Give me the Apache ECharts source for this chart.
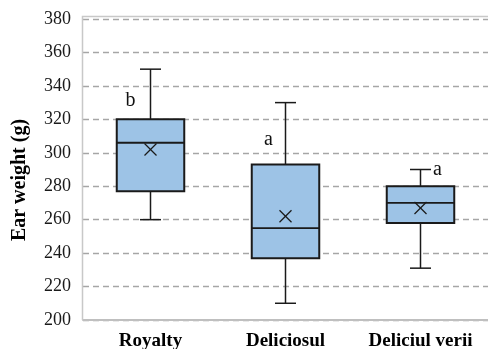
<!DOCTYPE html>
<html>
<head>
<meta charset="utf-8">
<script src="https://cdn.jsdelivr.net/npm/echarts@6/dist/echarts.min.js"></script>
<style>
  html, body { margin: 0; padding: 0; background: #fff; }
  #chart { width: 488px; height: 349px; }
</style>
</head>
<body>
<div id="chart"></div>
<script>
// Cultivars on the category axis
const cultivars = ['Royalty', 'Deliciosul', 'Deliciul verii'];

// Five-number summaries of ear weight (g): min, Q1, median, Q3, max
const whiskerMin = [260, 210, 231];
const quartile1  = [277, 237, 258];
const medians    = [306, 255, 270];
const quartile3  = [320, 293, 280];
const whiskerMax = [350, 330, 290];

// Mean ear weight (g), drawn as an x marker
const means = [302, 262, 267];

// Significance letters and the value level they sit at
const letters      = ['b', 'a', 'a'];
const letterLevels = [331, 308, 290];
const letterShift  = [-20, -17, 17];

// Value axis ticks
const yMin = 200, yMax = 380, yStep = 20;

const axisTitle = 'Ear weight (g)';

const serif = '"Liberation Serif", "Times New Roman", serif';

const boxData = cultivars.map((c, i) => [i, whiskerMin[i], quartile1[i], medians[i], quartile3[i], whiskerMax[i], means[i]]);
const letterData = cultivars.map((c, i) => [i, letterLevels[i], letters[i], letterShift[i]]);

const chart = echarts.init(document.getElementById('chart'), null, { renderer: 'canvas' });

chart.setOption({
  animation: false,
  grid: { left: 83, right: 0, top: 19, bottom: 29, containLabel: false, outerBoundsMode: 'none' },
  xAxis: {
    type: 'category',
    data: cultivars,
    axisLine: { show: true, lineStyle: { color: '#bfbfbf', width: 2 } },
    axisTick: { show: false },
    axisLabel: { interval: 0, fontFamily: serif, fontWeight: 'bold', fontSize: 19, color: '#000', margin: 12 },
    splitLine: { show: false }
  },
  yAxis: {
    type: 'value',
    min: yMin, max: yMax, interval: yStep,
    axisLine: { show: false },
    axisTick: { show: false },
    axisLabel: { fontFamily: serif, fontSize: 18, color: '#1a1a1a', margin: 12 },
    splitLine: { show: true, lineStyle: { color: '#a6a6a6', type: [6, 4], width: 1.3 } }
  },
  graphic: [
    {
      type: 'polyline',
      silent: true,
      z: 1,
      shape: { points: [[82.5, 320], [82.5, 16.5], [488, 16.5]] },
      style: { stroke: '#c8c8c8', lineWidth: 1.5, fill: null }
    },
    {
      type: 'text',
      silent: true,
      x: 20,
      y: 180,
      rotation: Math.PI / 2,
      style: {
        text: axisTitle,
        fontFamily: serif,
        fontWeight: 'bold',
        fontSize: 20,
        fill: '#000',
        align: 'center',
        verticalAlign: 'middle'
      }
    }
  ],
  series: [
    {
      type: 'custom',
      data: boxData,
      z: 5,
      renderItem: function (params, api) {
        const i = api.value(0);
        const cx = api.coord([i, api.value(3)])[0];
        const band = api.size([1, 0])[0];
        const half = band * 0.25;
        const cap = 10.5;
        const yMinP = api.coord([i, api.value(1)])[1];
        const yQ1 = api.coord([i, api.value(2)])[1];
        const yMed = api.coord([i, api.value(3)])[1];
        const yQ3 = api.coord([i, api.value(4)])[1];
        const yMaxP = api.coord([i, api.value(5)])[1];
        const yMean = api.coord([i, api.value(6)])[1];
        const ink = '#1a1a1a';
        const m = 6;
        return {
          type: 'group',
          children: [
            { type: 'line', shape: { x1: cx, y1: yMaxP, x2: cx, y2: yQ3 }, style: { stroke: ink, lineWidth: 1.5 } },
            { type: 'line', shape: { x1: cx, y1: yQ1, x2: cx, y2: yMinP }, style: { stroke: ink, lineWidth: 1.5 } },
            { type: 'line', shape: { x1: cx - cap, y1: yMaxP, x2: cx + cap, y2: yMaxP }, style: { stroke: ink, lineWidth: 1.5 } },
            { type: 'line', shape: { x1: cx - cap, y1: yMinP, x2: cx + cap, y2: yMinP }, style: { stroke: ink, lineWidth: 1.5 } },
            { type: 'rect', shape: { x: cx - half, y: yQ3, width: half * 2, height: yQ1 - yQ3 }, style: { fill: '#9dc3e6', stroke: ink, lineWidth: 2 } },
            { type: 'line', shape: { x1: cx - half, y1: yMed, x2: cx + half, y2: yMed }, style: { stroke: ink, lineWidth: 1.8 } },
            { type: 'line', shape: { x1: cx - m, y1: yMean - m, x2: cx + m, y2: yMean + m }, style: { stroke: ink, lineWidth: 1.3 } },
            { type: 'line', shape: { x1: cx - m, y1: yMean + m, x2: cx + m, y2: yMean - m }, style: { stroke: ink, lineWidth: 1.3 } }
          ]
        };
      }
    },
    {
      type: 'custom',
      data: letterData,
      z: 6,
      renderItem: function (params, api) {
        const p = api.coord([api.value(0), api.value(1)]);
        const idx = params.dataIndex;
        return {
          type: 'text',
          x: p[0] + letterData[idx][3],
          y: p[1],
          style: {
            text: letterData[idx][2],
            fontFamily: serif,
            fontSize: 20,
            fill: '#111',
            align: 'center',
            verticalAlign: 'middle'
          }
        };
      }
    }
  ]
});
</script>
</body>
</html>
